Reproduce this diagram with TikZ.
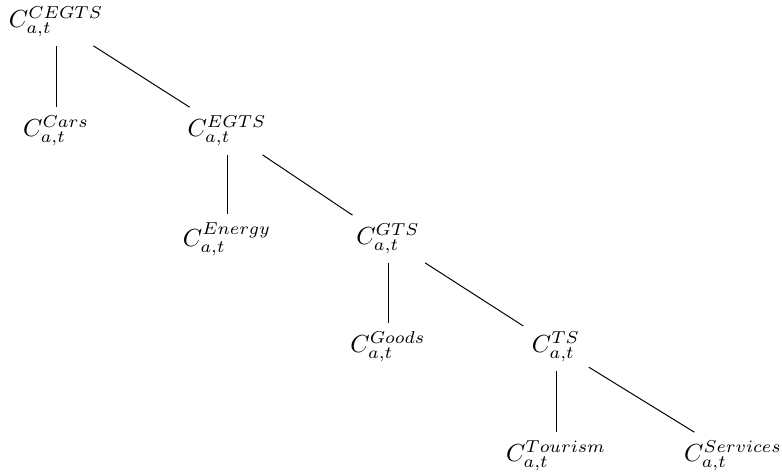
\documentclass[tikz,border=0pt]{standalone}
\begin{document}
\begin{tikzpicture}[x=0.405pt,y=-0.405pt,
  tn/.style={inner sep=3.33pt},
  edge/.style={draw=black,line width=0.4pt}]
\useasboundingbox (0,0) rectangle (782,474);
\node[tn] (root) at (56,22) {$C^{CEGTS}_{a,t}$};
\node[tn] (cars) at (56,131) {$C^{Cars}_{a,t}$};
\node[tn] (egts) at (227,131) {$C^{EGTS}_{a,t}$};
\node[tn] (energy) at (227,239) {$C^{Energy}_{a,t}$};
\node[tn] (gts) at (388,239) {$C^{GTS}_{a,t}$};
\node[tn] (goods) at (388,347) {$C^{Goods}_{a,t}$};
\node[tn] (ts) at (556,347) {$C^{TS}_{a,t}$};
\node[tn] (tourism) at (556,456) {$C^{Tourism}_{a,t}$};
\node[tn] (services) at (733,456) {$C^{Services}_{a,t}$};
\draw[edge] (root) -- (cars);
\draw[edge] (root) -- (egts);
\draw[edge] (egts) -- (energy);
\draw[edge] (egts) -- (gts);
\draw[edge] (gts) -- (goods);
\draw[edge] (gts) -- (ts);
\draw[edge] (ts) -- (tourism);
\draw[edge] (ts) -- (services);
\end{tikzpicture}
\end{document}
